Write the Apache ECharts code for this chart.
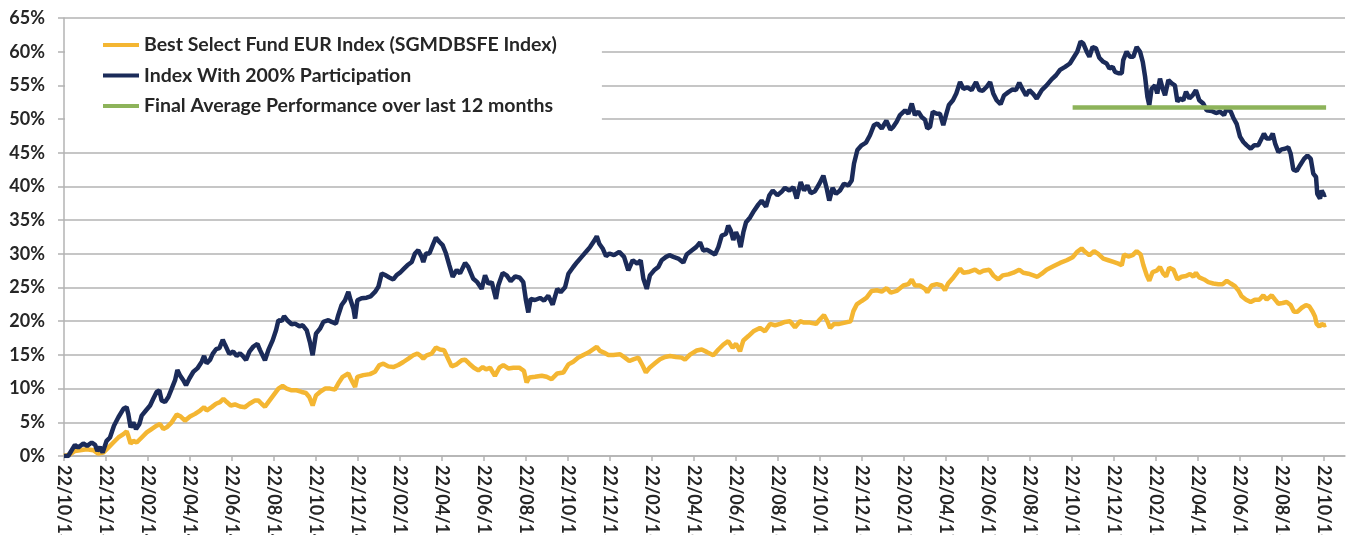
<!DOCTYPE html>
<html>
<head>
<meta charset="utf-8">
<script src="https://cdn.jsdelivr.net/npm/echarts@6/dist/echarts.min.js"></script>
<style>
    html, body { margin: 0; padding: 0; background: #fff; }
    #chart-box { width: 1349px; height: 535px; }
</style>
</head>
<body>
<div id="chart-box"></div>
<script>
// x = months since 22/10/13, y = performance in %
let tickMonths = [0,2,4,6,8,10,12,14,16,18,20,22,24,26,28,30,32,34,36,38,40,42,44,46,48,50,52,54,56,58,60]
let tickLabels = ["22/10/13","22/12/13","22/02/14","22/04/14","22/06/14","22/08/14","22/10/14","22/12/14",
    "22/02/15","22/04/15","22/06/15","22/08/15","22/10/15","22/12/15","22/02/16","22/04/16",
    "22/06/16","22/08/16","22/10/16","22/12/16","22/02/17","22/04/17","22/06/17","22/08/17",
    "22/10/17","22/12/17","22/02/18","22/04/18","22/06/18","22/08/18","22/10/18"]

let fundName = "Best Select Fund EUR Index (SGMDBSFE Index)"
let fundPoints = [[0,0],[0.29,0.25],[0.52,0.75],[0.76,0.85],[1.08,1.0],[1.4,0.85],[1.63,0.35],[1.87,0.5],[2.11,1.25],[2.35,2.0],[2.59,2.75],[2.83,3.25],[2.98,3.65],[3.06,3.0],[3.17,1.85],[3.3,2.25],[3.46,2.0],[3.7,2.75],[3.94,3.5],[4.17,4.0],[4.41,4.5],[4.57,4.75],[4.73,4.0],[4.89,4.25],[5.13,5.0],[5.37,6.15],[5.56,5.85],[5.76,5.25],[6.0,5.85],[6.24,6.25],[6.48,6.75],[6.67,7.25],[6.79,6.75],[7.03,7.25],[7.24,7.75],[7.43,8.0],[7.59,8.5],[7.75,8.0],[7.94,7.5],[8.14,7.65],[8.38,7.35],[8.62,7.25],[8.83,7.75],[9.1,8.25],[9.25,8.25],[9.41,7.75],
    [9.57,7.3],[9.73,8.0],[9.97,9.0],[10.21,10.0],[10.41,10.4],[10.6,10.0],[10.84,9.75],[11.08,9.75],[11.32,9.5],[11.52,9.35],[11.68,8.75],[11.84,7.5],[12.0,9.0],[12.19,9.5],[12.43,10.0],[12.67,10.0],[12.9,9.85],[13.06,10.75],[13.27,11.75],[13.54,12.25],[13.65,11.5],[13.86,10.25],[13.97,11.75],[14.25,12.0],[14.57,12.15],[14.81,12.5],[15.02,13.5],[15.21,13.7],[15.44,13.3],[15.68,13.2],[15.92,13.5],[16.16,13.95],[16.4,14.45],[16.63,14.95],[16.83,15.2],[16.95,14.95],[17.11,14.45],[17.27,14.95],[17.51,15.2],[17.71,16.1],[17.9,15.8],[18.1,15.7],[18.25,14.7],[18.46,13.3],[18.7,13.6],[18.94,14.2],[19.1,14.3],[19.3,13.7],
    [19.52,13.1],[19.73,12.7],[19.94,13.2],[20.1,12.85],[20.29,13.1],[20.52,11.9],[20.73,13.1],[20.92,13.5],[21.16,13.0],[21.4,13.1],[21.68,13.1],[21.9,12.65],[22.03,10.9],[22.16,11.65],[22.43,11.75],[22.75,11.9],[22.98,11.75],[23.22,11.4],[23.49,12.25],[23.78,12.4],[24.02,13.6],[24.25,14.0],[24.49,14.6],[24.73,15.0],[24.97,15.35],[25.21,15.85],[25.37,16.2],[25.52,15.6],[25.71,15.35],[25.92,15.0],[26.16,15.0],[26.48,15.1],[26.71,14.6],[26.92,14.1],[27.11,14.35],[27.35,14.6],[27.56,13.4],[27.71,12.4],[27.9,13.15],[28.14,13.75],[28.38,14.35],[28.62,14.7],[28.86,14.85],[29.14,14.7],[29.41,14.6],
    [29.57,14.3],[29.81,15.05],[30.13,15.65],[30.37,15.8],[30.6,15.45],[30.92,14.95],[31.16,15.8],[31.4,16.55],[31.63,17.05],[31.84,16.05],[32.0,16.65],[32.19,15.55],[32.35,17.15],[32.59,17.8],[32.83,18.5],[33.14,19.0],[33.38,18.5],[33.62,19.6],[33.86,19.4],[34.1,19.6],[34.33,19.9],[34.57,20.0],[34.81,19.1],[35.05,20.0],[35.24,19.8],[35.52,19.8],[35.81,19.6],[36.0,20.3],[36.19,20.9],[36.35,20.0],[36.48,19.0],[36.67,19.6],[36.92,19.6],[37.19,19.8],[37.46,20.0],[37.59,21.5],[37.75,22.5],[37.98,23.0],[38.22,23.5],[38.46,24.5],[38.7,24.6],[38.94,24.4],[39.17,24.9],[39.37,24.25],
    [39.65,24.5],[39.97,25.3],[40.21,25.5],[40.37,26.2],[40.52,25.3],[40.76,25.3],[41.0,24.8],[41.11,24.3],[41.32,25.3],[41.56,25.5],[41.79,25.3],[41.95,24.6],[42.1,25.6],[42.3,26.3],[42.49,27.05],[42.67,27.8],[42.83,27.2],[43.06,27.3],[43.38,27.65],[43.59,27.2],[43.78,27.5],[44.06,27.65],[44.25,26.8],[44.49,26.2],[44.7,26.8],[44.97,26.95],[45.21,27.2],[45.49,27.65],[45.68,27.2],[45.92,27.05],[46.16,26.8],[46.35,26.6],[46.56,27.05],[46.79,27.65],[47.11,28.15],[47.43,28.65],[47.75,29.05],[48.03,29.5],[48.25,30.3],[48.46,30.8],[48.62,30.3],[48.83,29.8],[49.05,30.4],[49.25,30.0],
    [49.49,29.3],[49.73,29.05],[49.97,28.8],[50.21,28.55],[50.37,28.3],[50.48,29.9],[50.68,29.6],[50.89,29.8],[51.08,30.4],[51.27,29.9],[51.4,28.3],[51.56,26.8],[51.68,26.0],[51.84,27.3],[52.03,27.5],[52.19,28.05],[52.35,27.05],[52.48,26.65],[52.63,27.95],[52.83,27.65],[53.02,26.2],[53.22,26.6],[53.43,26.7],[53.62,27.0],[53.78,26.6],[53.9,27.2],[54.06,26.5],[54.29,26.2],[54.49,25.8],[54.73,25.6],[54.97,25.5],[55.17,25.5],[55.37,26.0],[55.56,25.6],[55.76,25.2],[55.92,24.6],[56.08,23.7],[56.29,23.2],[56.51,22.85],[56.71,23.2],[56.92,23.2],[57.11,23.85],[57.27,23.2],[57.51,23.85],[57.67,23.2],[57.83,22.6],[58.03,22.7],[58.22,22.85],[58.41,22.4],[58.57,21.4],[58.73,21.4],[58.94,22.0],[59.14,22.4],[59.3,22.2],[59.46,21.4],[59.57,20.7],[59.65,19.6],[59.78,19.2],[59.89,19.6],[60.0,19.4],[60.1,19.5]]

let indexName = "Index With 200% Participation"
let indexPoints = [[0,0],[0.2,0],[0.52,1.65],[0.68,1.25],[0.92,1.85],[1.1,1.5],[1.32,2.0],[1.48,1.65],[1.59,0.75],[1.71,1.35],[1.84,0.5],[2.03,2.25],[2.19,2.75],[2.38,4.5],[2.59,5.75],[2.83,7.0],[2.98,7.25],[3.06,6.25],[3.17,4.25],[3.3,5.0],[3.43,4.0],[3.59,4.75],[3.7,6.0],[3.9,6.75],[4.1,7.5],[4.25,8.5],[4.41,9.5],[4.54,9.75],[4.65,8.25],[4.81,8.0],[4.97,8.75],[5.13,10.0],[5.29,11.25],[5.4,12.75],[5.52,12.0],[5.68,11.25],[5.81,10.5],[5.97,11.5],[6.16,12.5],[6.35,13.0],[6.56,14.0],[6.67,14.85],[6.79,13.75],[6.95,14.25],[7.08,15.15],[7.24,15.85],[7.4,16.0],[7.56,17.25],[7.67,16.5],[7.87,15.15],[8.06,15.5],[8.22,14.85],[8.38,15.25],[8.51,14.85],[8.67,14.25],[8.83,15.5],[9.02,16.25],[9.21,16.65],[9.33,15.75],
    [9.57,14.2],[9.73,15.7],[9.94,17.2],[10.1,18.7],[10.21,20.15],[10.37,20.05],[10.48,20.75],[10.63,20.15],[10.84,19.55],[11.0,19.65],[11.21,19.25],[11.37,19.4],[11.56,18.65],[11.71,16.9],[11.84,14.95],[12.0,18.15],[12.19,18.9],[12.35,19.9],[12.59,20.15],[12.75,19.9],[12.95,19.65],[13.06,20.9],[13.22,22.4],[13.38,23.1],[13.54,24.35],[13.65,23.1],[13.78,21.9],[13.86,20.4],[13.97,23.1],[14.17,23.4],[14.41,23.5],[14.6,23.7],[14.81,24.35],[14.97,25.1],[15.13,27.1],[15.29,26.85],[15.49,26.5],[15.68,26.2],[15.84,26.85],[16.0,27.2],[16.19,27.8],[16.35,28.3],[16.56,28.8],[16.71,30.05],[16.87,30.55],[17.03,29.55],[17.11,28.8],[17.24,30.05],[17.4,30.05],[17.56,31.3],[17.71,32.4],[17.87,31.8],[18.03,31.3],[18.19,30.05],[18.35,28.3],[18.51,26.6],[18.7,27.6],[18.86,27.1],[19.1,28.65],[19.25,28.05],
    [19.49,26.3],[19.68,25.8],[19.89,24.8],[20.05,26.8],[20.21,25.55],[20.37,25.8],[20.57,23.3],[20.68,25.3],[20.89,27.15],[21.08,26.8],[21.27,25.95],[21.49,26.65],[21.71,26.45],[21.87,25.8],[22.0,23.05],[22.11,21.3],[22.22,23.3],[22.43,23.15],[22.67,23.45],[22.86,23.05],[23.06,23.8],[23.27,22.45],[23.49,24.8],[23.65,24.3],[23.86,25.05],[24.02,27.05],[24.25,28.05],[24.44,28.8],[24.65,29.55],[24.86,30.3],[25.05,31.0],[25.24,31.9],[25.37,32.6],[25.49,31.5],[25.65,30.8],[25.81,29.65],[25.97,30.05],[26.19,29.8],[26.44,30.3],[26.67,29.55],[26.87,27.55],[27.08,29.05],[27.3,28.55],[27.46,29.05],[27.59,26.3],[27.75,24.8],[27.9,26.8],[28.1,27.55],[28.3,28.05],[28.46,29.05],[28.67,29.55],[28.83,29.8],[29.02,29.55],[29.25,29.3],
    [29.49,28.7],[29.65,29.9],[29.89,30.5],[30.1,31.0],[30.29,31.7],[30.44,30.5],[30.63,30.6],[30.84,30.2],[31.0,29.9],[31.16,31.0],[31.32,32.7],[31.52,32.95],[31.63,34.2],[31.75,33.45],[31.87,32.05],[32.0,33.2],[32.11,32.45],[32.22,31.0],[32.35,33.2],[32.48,34.7],[32.67,35.4],[32.86,36.4],[33.06,37.3],[33.22,37.9],[33.43,37.0],[33.59,38.7],[33.75,39.4],[33.97,38.7],[34.17,39.2],[34.33,39.8],[34.54,39.4],[34.73,39.9],[34.89,38.2],[35.08,40.65],[35.24,39.4],[35.4,40.15],[35.56,39.0],[35.76,39.3],[35.97,40.4],[36.16,41.6],[36.32,39.7],[36.44,37.9],[36.6,39.8],[36.76,38.9],[36.95,39.4],[37.14,40.4],[37.35,40.15],[37.51,40.9],[37.62,43.4],[37.78,45.4],[37.98,46.1],[38.19,46.5],[38.38,47.6],[38.57,49.1],[38.73,49.35],[38.94,48.6],[39.16,49.75],[39.35,48.45],
    [39.49,48.85],[39.65,49.6],[39.81,50.6],[40.05,51.3],[40.21,50.8],[40.37,52.3],[40.52,50.6],[40.68,51.1],[40.84,50.3],[41.0,49.9],[41.11,48.6],[41.24,48.85],[41.37,51.1],[41.56,50.8],[41.71,50.8],[41.87,49.1],[42.02,50.8],[42.14,52.1],[42.33,52.8],[42.49,53.8],[42.67,55.5],[42.83,54.5],[43.02,54.7],[43.22,54.3],[43.43,55.5],[43.59,54.3],[43.75,54.2],[43.94,54.8],[44.1,55.5],[44.25,53.8],[44.41,52.8],[44.6,52.2],[44.76,53.5],[44.97,54.0],[45.17,54.4],[45.33,54.3],[45.49,55.4],[45.65,54.4],[45.81,53.5],[45.97,54.3],[46.16,53.7],[46.32,53.05],[46.56,54.3],[46.79,55.0],[47.03,55.9],[47.24,56.5],[47.43,57.3],[47.67,57.75],[47.9,58.25],[48.1,59.25],[48.25,60.0],[48.41,61.5],[48.54,61.2],[48.7,60.0],[48.83,59.25],[48.98,60.7],[49.14,60.5],[49.3,59.1],
    [49.49,58.5],[49.65,58.25],[49.78,57.5],[49.94,57.75],[50.05,57.0],[50.21,56.8],[50.37,56.8],[50.44,58.75],[50.6,60.0],[50.76,59.25],[50.92,59.25],[51.08,60.7],[51.24,60.0],[51.37,58.5],[51.48,56.3],[51.59,53.3],[51.68,52.05],[51.79,54.5],[51.95,55.0],[52.06,53.8],[52.19,56.0],[52.32,54.5],[52.43,53.55],[52.59,55.8],[52.75,55.3],[52.9,55.0],[53.02,52.6],[53.14,53.05],[53.3,52.8],[53.43,54.05],[53.59,53.05],[53.75,53.55],[53.9,54.3],[54.06,52.8],[54.25,52.3],[54.41,51.3],[54.65,51.2],[54.86,50.9],[55.05,51.1],[55.24,50.6],[55.37,51.6],[55.56,51.1],[55.68,50.2],[55.84,49.3],[56.0,47.4],[56.16,46.6],[56.32,46.1],[56.51,45.6],[56.67,46.1],[56.87,46.1],[57.03,47.1],[57.14,47.85],[57.27,47.1],[57.43,47.1],[57.56,47.85],[57.67,46.4],[57.83,45.1],[57.98,45.5],[58.14,45.6],[58.3,45.8],[58.41,44.9],[58.54,42.5],[58.7,42.3],[58.86,43.15],[59.05,44.1],[59.21,44.6],[59.37,44.1],[59.49,41.9],[59.62,41.4],[59.68,38.9],[59.81,38.2],[59.89,39.4],[60.0,38.7],[60.1,38.8]]

let avgName = "Final Average Performance over last 12 months"
let avgPoints = [[48.03,51.7],[60.1,51.7]]

let chart = echarts.init(document.getElementById("chart-box"))
let textColor = "#262626"
let gridColor = "#b3b3b3"

let option = {
    animation: false,
    grid: {
        left: 64,
        right: 4,
        top: 18,
        bottom: 79,
        outerBoundsMode: "none"
    },
    legend: {
        orient: "vertical",
        left: 65,
        top: 27,
        padding: [8, 45, 8, 38],
        itemGap: 10.5,
        itemWidth: 36,
        itemHeight: 4,
        icon: "rect",
        backgroundColor: "#ffffff",
        textStyle: {
            color: textColor,
            fontFamily: "Lato",
            fontWeight: "bold",
            fontSize: 19.5,
            lineHeight: 20
        },
        data: [fundName, indexName, avgName]
    },
    xAxis: {
        type: "value",
        min: 0,
        max: 61,
        axisLine: { lineStyle: { color: gridColor, width: 1.5 } },
        axisTick: {
            show: true,
            length: 5,
            customValues: tickMonths,
            lineStyle: { color: gridColor, width: 1.5 }
        },
        axisLabel: {
            customValues: tickMonths,
            rotate: -90,
            margin: 9,
            color: textColor,
            fontFamily: "Lato",
            fontWeight: "bold",
            fontSize: 18,
            formatter: function (value) {
                return tickLabels[tickMonths.indexOf(value)]
            }
        },
        splitLine: { show: false }
    },
    yAxis: {
        type: "value",
        min: 0,
        max: 65,
        interval: 5,
        axisLine: { show: true, lineStyle: { color: gridColor, width: 1.5 } },
        axisTick: { show: true, length: 6, lineStyle: { color: gridColor, width: 1.5 } },
        axisLabel: {
            margin: 19,
            color: textColor,
            fontFamily: "Lato",
            fontWeight: "bold",
            fontSize: 18,
            formatter: "{value}%"
        },
        splitLine: { lineStyle: { color: gridColor, width: 1.5 } }
    },
    series: [
        {
            name: fundName,
            type: "line",
            data: fundPoints,
            showSymbol: false,
            itemStyle: { color: "#f4b632" },
            lineStyle: { color: "#f4b632", width: 4.5 }
        },
        {
            name: indexName,
            type: "line",
            data: indexPoints,
            showSymbol: false,
            itemStyle: { color: "#1b2b59" },
            lineStyle: { color: "#1b2b59", width: 4.5 }
        },
        {
            name: avgName,
            type: "line",
            data: avgPoints,
            showSymbol: false,
            itemStyle: { color: "#8db35a" },
            lineStyle: { color: "#8db35a", width: 4.5 }
        }
    ]
}
chart.setOption(option)
</script>
</body>
</html>
